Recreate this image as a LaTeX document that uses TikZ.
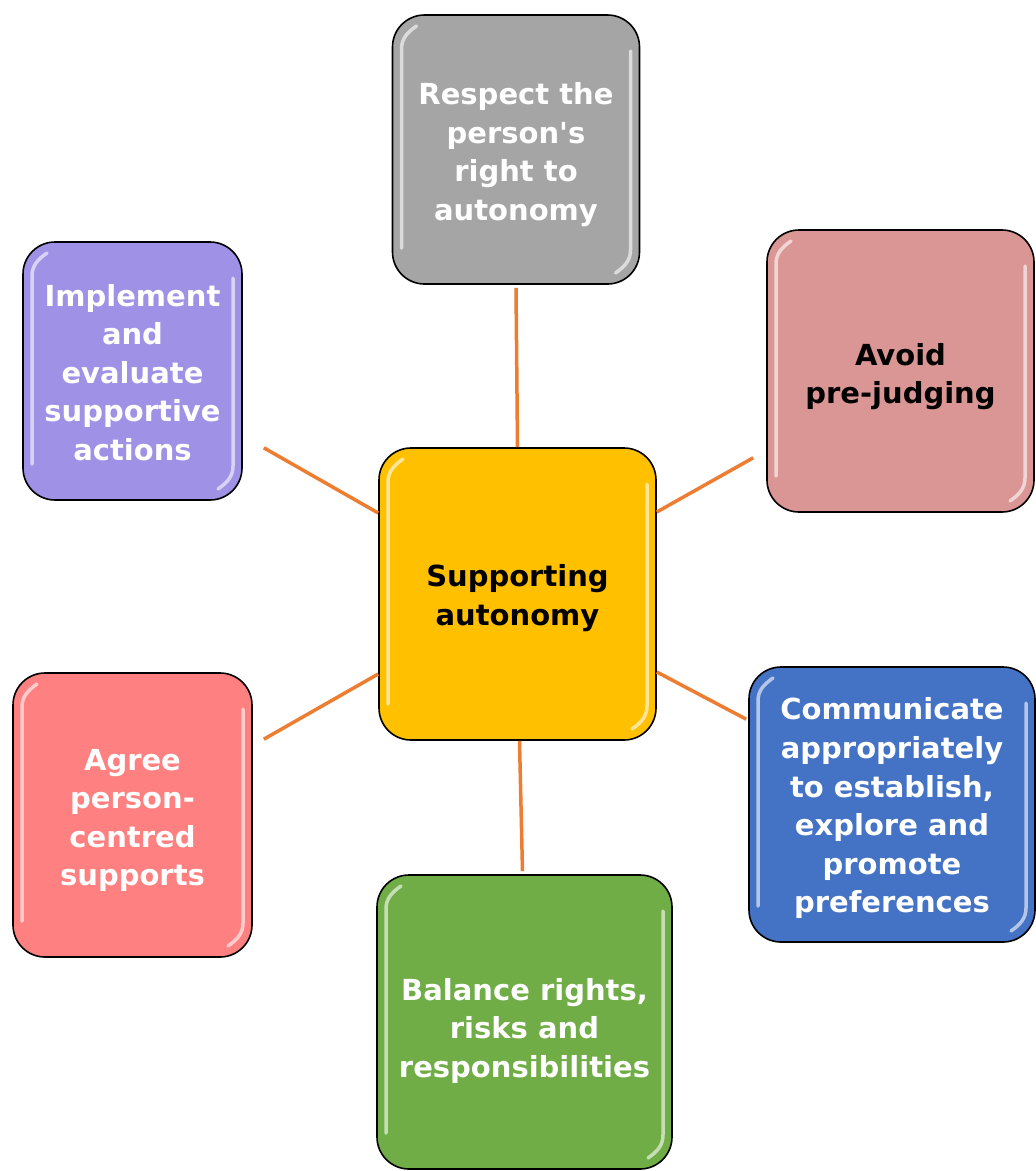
\documentclass[tikz,border=0pt]{standalone}
\usepackage{fontspec}
\setmainfont{DejaVu Sans}
\definecolor{hubyellow}{HTML}{FFC000}
\definecolor{respgray}{HTML}{A5A5A5}
\definecolor{avoidpink}{HTML}{DA9694}
\definecolor{implviolet}{HTML}{9E91E6}
\definecolor{agreered}{HTML}{FF8080}
\definecolor{commblue}{HTML}{4472C4}
\definecolor{balgreen}{HTML}{70AD47}
\definecolor{linkorange}{HTML}{ED7D31}
\newcommand\lift[1]{\rule{0pt}{#1}}
\tikzset{
  bubble/.style={draw=black, line width=1.6pt, rounded corners=32pt, fill=#1,
    align=center, inner sep=0pt, text=white,
    font=\bfseries\fontsize{29}{38.6}\selectfont,
    path picture={
      \draw[white, opacity=.6, line width=3.5pt, line cap=round, sharp corners]
        ([xshift=9pt,yshift=36pt]path picture bounding box.south west)
        -- ([xshift=9pt,yshift=-34pt]path picture bounding box.north west)
        to[out=90,in=-145] ([xshift=24pt,yshift=-11pt]path picture bounding box.north west);
      \draw[white, opacity=.6, line width=3.5pt, line cap=round, sharp corners]
        ([xshift=-9pt,yshift=-36pt]path picture bounding box.north east)
        -- ([xshift=-9pt,yshift=34pt]path picture bounding box.south east)
        to[out=-90,in=35] ([xshift=-24pt,yshift=11pt]path picture bounding box.south east);
    }},
  link/.style={draw=linkorange, line width=3.5pt}
}
\begin{document}
\begin{tikzpicture}[x=1pt,y=-1pt]
  \useasboundingbox (0,0) rectangle (1036,1171);
  \node[bubble=hubyellow, text=black, minimum width=277pt, minimum height=292pt]
    (hub) at (517.5,594) {\lift{30pt}Supporting\\autonomy};
  \node[bubble=respgray, minimum width=247pt, minimum height=269pt]
    (respect) at (516,149.5) {\lift{32pt}Respect the\\person\textquotesingle s\\right to\\autonomy};
  \node[bubble=avoidpink, text=black, minimum width=267pt, minimum height=282pt]
    (avoid) at (900.5,371) {\lift{33pt}Avoid\\pre-judging};
  \node[bubble=commblue, minimum width=286pt, minimum height=275pt]
    (comm) at (892,804.5) {\lift{30pt}Communicate\\appropriately\\to establish,\\explore and\\promote\\preferences};
  \node[bubble=balgreen, minimum width=295pt, minimum height=294pt]
    (balance) at (524.5,1022) {\lift{40pt}Balance rights,\\risks and\\responsibilities};
  \node[bubble=agreered, minimum width=239pt, minimum height=284pt]
    (agree) at (132.5,815) {\lift{32pt}Agree\\person-\\centred\\supports};
  \node[bubble=implviolet, minimum width=219pt, minimum height=258pt]
    (impl) at (132.5,371) {\lift{25pt}Implement\\and\\evaluate\\supportive\\actions};
  \path[link]
    (hub.north)               edge ([yshift=-3pt]respect.south)
    ([yshift=82pt]hub.east)   edge ([xshift=-13pt,yshift=55pt]avoid.south west)
    ([yshift=-78pt]hub.east)  edge ([xshift=-2pt,yshift=-53pt]comm.north west)
    ([xshift=2pt]hub.south)   edge ([xshift=-2pt,yshift=3pt]balance.north)
    ([yshift=-80pt]hub.west)  edge ([xshift=11pt,yshift=-67pt]agree.north east)
    ([yshift=81pt]hub.west)   edge ([xshift=21pt,yshift=53pt]impl.south east);
\end{tikzpicture}
\end{document}
